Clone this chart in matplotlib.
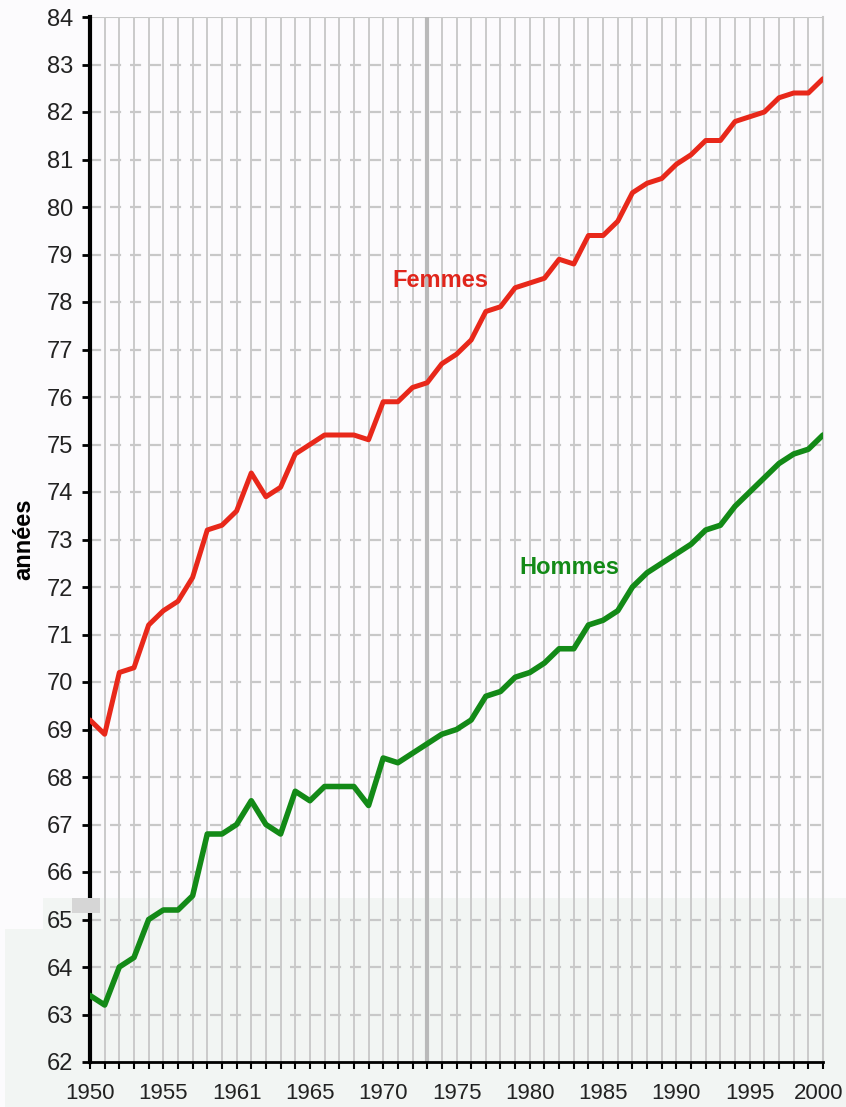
import matplotlib
matplotlib.use('Agg')
import matplotlib.pyplot as plt
from matplotlib.patches import Rectangle
from matplotlib.transforms import ScaledTranslation

years = list(range(1950, 2001))
femmes = [69.2, 68.9, 70.2, 70.3, 71.2, 71.5, 71.7, 72.2, 73.2, 73.3,
          73.6, 74.4, 73.9, 74.1, 74.8, 75.0, 75.2, 75.2, 75.2, 75.1,
          75.9, 75.9, 76.2, 76.3, 76.7, 76.9, 77.2, 77.8, 77.9, 78.3,
          78.4, 78.5, 78.9, 78.8, 79.4, 79.4, 79.7, 80.3, 80.5, 80.6,
          80.9, 81.1, 81.4, 81.4, 81.8, 81.9, 82.0, 82.3, 82.4, 82.4,
          82.7]
hommes = [63.4, 63.2, 64.0, 64.2, 65.0, 65.2, 65.2, 65.5, 66.8, 66.8,
          67.0, 67.5, 67.0, 66.8, 67.7, 67.5, 67.8, 67.8, 67.8, 67.4,
          68.4, 68.3, 68.5, 68.7, 68.9, 69.0, 69.2, 69.7, 69.8, 70.1,
          70.2, 70.4, 70.7, 70.7, 71.2, 71.3, 71.5, 72.0, 72.3, 72.5,
          72.7, 72.9, 73.2, 73.3, 73.7, 74.0, 74.3, 74.6, 74.8, 74.9,
          75.2]
xtick_pos = [1950, 1955, 1960, 1965, 1970, 1975, 1980, 1985, 1990, 1995, 2000]
xtick_labels = ['1950', '1955', '1961', '1965', '1970', '1975', '1980', '1985', '1990', '1995', '2000']
yticks = list(range(62, 85))

plt.rcParams['font.family'] = ['Liberation Sans', 'DejaVu Sans']

fig = plt.figure(figsize=(8.46, 11.07), dpi=100, facecolor='#fcfbfd')
ax = fig.add_axes([90 / 846, 1 - 1062 / 1107, 733 / 846, 1045 / 1107])
ax.set_facecolor('none')

# pale band at the bottom of the picture
shade = '#f2f5f3'
fig.add_artist(Rectangle((43 / 846, 0), 1, 1 - 898 / 1107, transform=fig.transFigure,
                         facecolor=shade, edgecolor='none', zorder=-2))
fig.add_artist(Rectangle((5 / 846, 0), 40 / 846, 1 - 929 / 1107, transform=fig.transFigure,
                         facecolor=shade, edgecolor='none', zorder=-2))
fig.add_artist(Rectangle((72 / 846, 1 - 913 / 1107), 28 / 846, 15 / 1107, transform=fig.transFigure,
                         facecolor='#d6d6d6', edgecolor='none', zorder=5))

# grid
for y in yticks[1:-1]:
    ax.axhline(y, color='#c8c8c8', lw=1.6, ls=(0, (5, 4)), zorder=1)
ax.axhline(84, color='#c8c8c8', lw=1.5, zorder=1)
for yr in years[1:]:
    ax.axvline(yr, color='#cacaca', lw=1.4, zorder=1)
ax.axvline(1973, color='#b9b9b9', lw=3, zorder=1)

ax.plot(years, femmes, color='#e8281a', lw=3.6, solid_capstyle='round', solid_joinstyle='round', zorder=3)
ax.plot(years, hommes, color='#138a17', lw=4, solid_capstyle='round', solid_joinstyle='round', zorder=3)

ax.text(1973.9, 78.45, 'Femmes', color='#e0261c', fontsize=17, fontweight='bold', ha='center', va='center')
ax.text(1982.7, 72.4, 'Hommes', color='#138a17', fontsize=17, fontweight='bold', ha='center', va='center')

ax.set_xlim(1950, 2000)
ax.set_ylim(62, 84)
ax.set_yticks(yticks)
ax.set_xticks(years, minor=True)
ax.set_xticks(xtick_pos)
ax.set_xticklabels(xtick_labels)
ax.tick_params(axis='y', direction='out', length=6, width=2, color='black',
               labelsize=17, pad=6, labelcolor='#222222')
ax.tick_params(axis='x', which='both', direction='out', length=5, width=1.5, color='black',
               labelsize=16, pad=10, labelcolor='#222222')
# nudge "2000" left so it stays inside the picture
last = ax.xaxis.get_major_ticks()[-1].label1
last.set_transform(last.get_transform() + ScaledTranslation(-4 / 100, 0, fig.dpi_scale_trans))

ax.spines['left'].set_linewidth(3)
ax.spines['bottom'].set_linewidth(2)
ax.spines['top'].set_visible(False)
ax.spines['right'].set_color('#c8c8c8')
ax.spines['right'].set_linewidth(1.5)

ax.set_ylabel('années', fontsize=17, fontweight='bold', labelpad=8)

fig.savefig('out.png', dpi=100, facecolor=fig.get_facecolor())
